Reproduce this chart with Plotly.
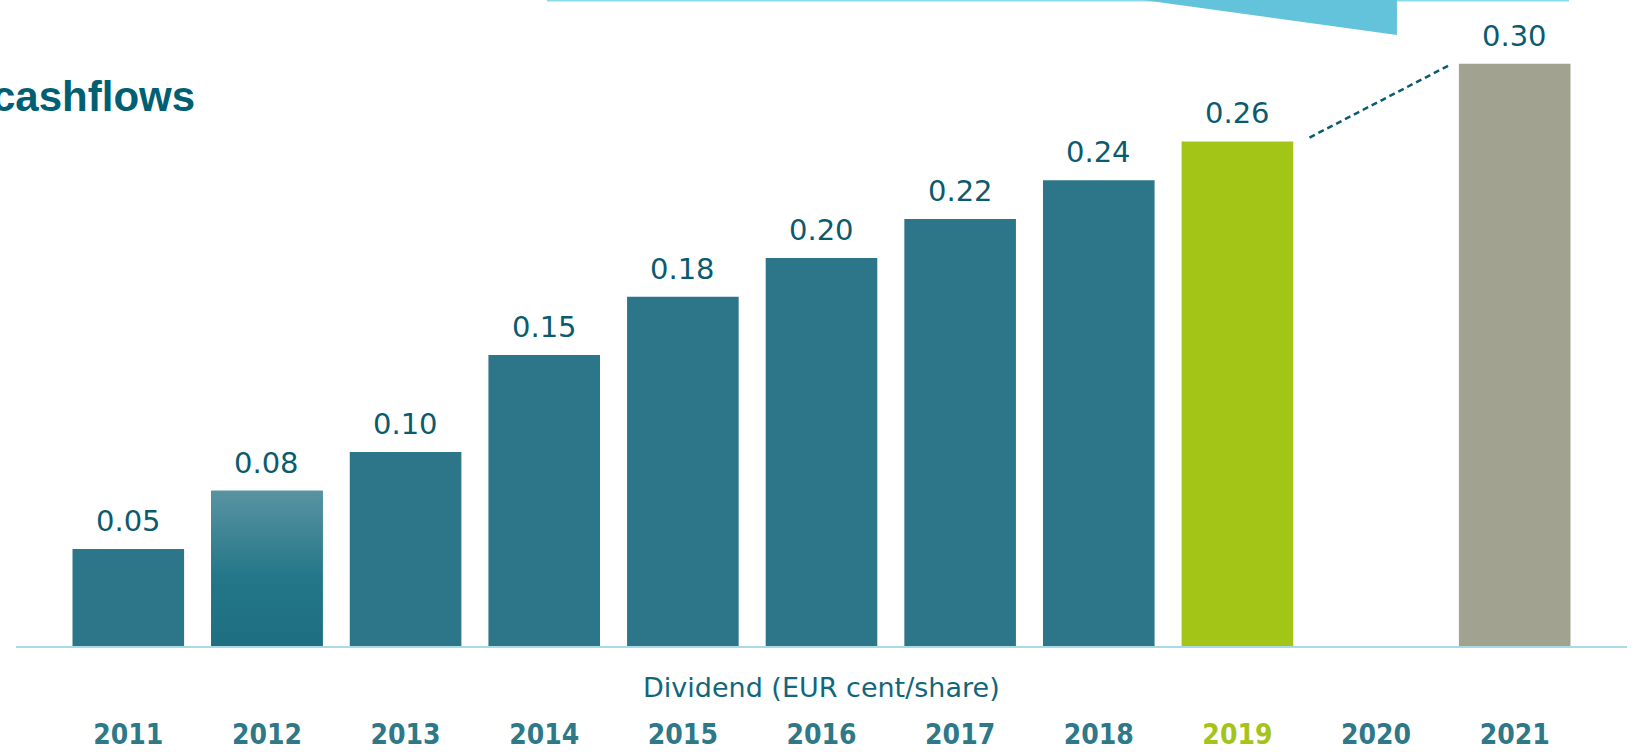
import plotly.graph_objects as go

years = [2011, 2012, 2013, 2014, 2015, 2016, 2017, 2018, 2019, 2021]
dividends = [0.05, 0.08, 0.10, 0.15, 0.18, 0.20, 0.22, 0.24, 0.26, 0.30]
value_labels = ["0.05", "0.08", "0.10", "0.15", "0.18", "0.20", "0.22", "0.24", "0.26", "0.30"]
bar_colors = ["#2d7689", "#2a7a8c", "#2d7689", "#2d7689", "#2d7689", "#2d7689",
              "#2d7689", "#2d7689", "#a2c518", "#a1a390"]
tick_years = [2011, 2012, 2013, 2014, 2015, 2016, 2017, 2018, 2019, 2020, 2021]
tick_labels = ["2011", "2012", "2013", "2014", "2015", "2016", "2017", "2018",
               "<span style='color:#a4c41a'>2019</span>", "2020", "2021"]
axis_title = "Dividend (EUR cent/share)"
headline = "cashflows"

BAR_W = 0.805
TEAL_DARK = "#0b5b6f"

fig = go.Figure()
fig.add_trace(go.Bar(
    x=years, y=dividends, width=BAR_W,
    marker=dict(color=bar_colors, line=dict(width=0)),
    hoverinfo="x+y", showlegend=False,
))

# gradient overlay for the 2012 bar
gi = years.index(2012)
gx0, gx1 = years[gi] - BAR_W / 2, years[gi] + BAR_W / 2
fig.add_trace(go.Scatter(
    x=[gx0, gx1, gx1, gx0, gx0], y=[0, 0, dividends[gi], dividends[gi], 0],
    mode="lines", line=dict(width=0), fill="toself",
    fillgradient=dict(type="vertical",
                      colorscale=[[0, "#1e6e81"], [0.45, "#237789"], [1, "#5a93a2"]]),
    hoverinfo="skip", showlegend=False,
))

for x, v, t in zip(years, dividends, value_labels):
    fig.add_annotation(x=x, y=v, text=t, showarrow=False, yanchor="bottom",
                       yshift=9, font=dict(family="DejaVu Sans", size=29, color=TEAL_DARK))

# dashed connector from 2019 to 2021
i19, i21 = years.index(2019), years.index(2021)
fig.add_shape(type="line", xref="x", yref="y",
              x0=years[i19] + 0.52, y0=dividends[i19] + 0.002,
              x1=years[i21] - 0.48, y1=dividends[i21] - 0.001,
              line=dict(color=TEAL_DARK, width=2.5, dash="6px,4px"))

# banner at top
fig.add_shape(type="rect", xref="paper", yref="paper",
              x0=0.3296, x1=0.964, y0=0.9975, y1=1.0,
              fillcolor="#8fd9ec", line=dict(width=0), layer="above")
fig.add_shape(type="path", xref="paper", yref="paper",
              path="M 0.6996 1.0 L 0.8572 1.0 L 0.8572 0.9458 Z",
              fillcolor="#63c3db", line=dict(width=0), layer="above")

fig.add_annotation(xref="paper", yref="paper", x=0.1125, y=0.85,
                   xanchor="right", yanchor="middle", text=headline, showarrow=False,
                   font=dict(family="Liberation Sans", size=42, color="#005f73", weight="bold"))
fig.add_annotation(xref="paper", yref="paper", x=0.4997, y=-0.064,
                   xanchor="center", yanchor="middle", text=axis_title, showarrow=False,
                   font=dict(family="DejaVu Sans", size=27, color="#12667a"))

fig.update_layout(
    width=1634, height=752,
    margin=dict(l=16, r=7, t=0, b=106, autoexpand=False),
    paper_bgcolor="white", plot_bgcolor="white",
    bargap=0.195,
    xaxis=dict(range=[2010.19, 2021.81], tickvals=tick_years, ticktext=tick_labels,
               showgrid=False, zeroline=False, showline=True, linecolor="#a9dbe7",
               linewidth=2, ticks="", ticklabelstandoff=62, automargin=False,
               tickfont=dict(family="DejaVu Sans Condensed", size=28, color="#2e7888",
                             weight="bold")),
    yaxis=dict(range=[0, 0.3329], visible=False, showgrid=False, zeroline=False,
               automargin=False),
)

fig.write_html("out.html", config={"displayModeBar": False},
               post_script="document.body.style.margin='0';document.body.style.overflow='hidden';")
